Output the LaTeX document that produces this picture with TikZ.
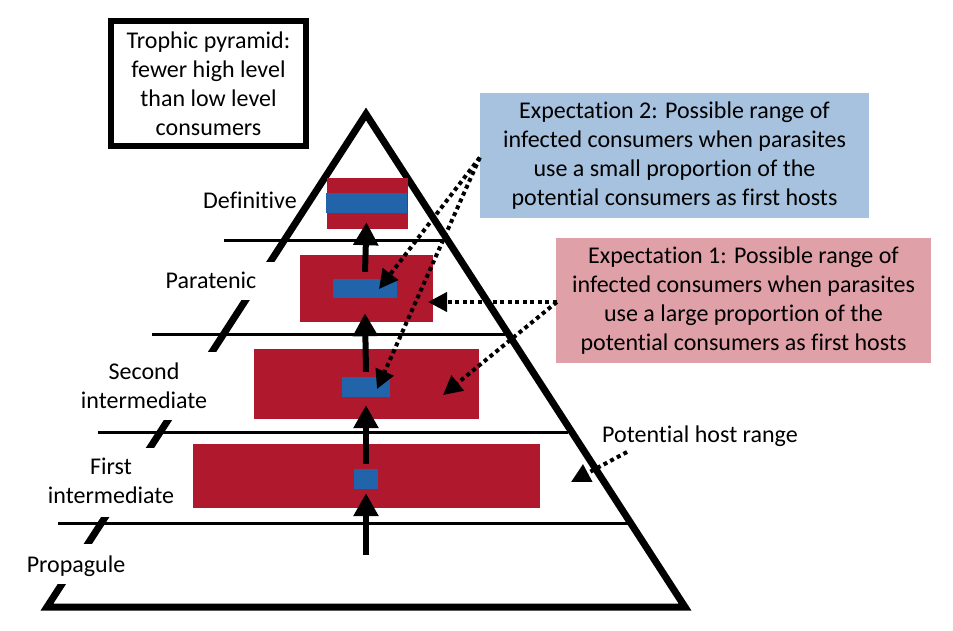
\documentclass[tikz,border=0pt]{standalone}
\usepackage{fontspec}
\setmainfont{Carlito}[Ligatures=NoCommon]
\usetikzlibrary{arrows.meta}
\definecolor{hostred}{RGB}{176,24,45}
\definecolor{infblue}{RGB}{34,100,170}
\definecolor{lightblue}{RGB}{166,194,222}
\definecolor{lightpink}{RGB}{223,160,168}
\begin{document}
\begin{tikzpicture}[x=1pt,y=-1pt,
  txt/.style={font=\fontsize{24}{29}\selectfont, align=center, inner sep=0pt, text=black},
  levelline/.style={line width=3pt},
  sideline/.style={line width=7pt, line join=miter},
  hostrect/.style={fill=hostred, draw=none, inner sep=0pt},
  infrect/.style={fill=infblue, draw=none, inner sep=0pt},
  uparrow/.style={line width=6pt, -{Triangle[length=23pt,width=24pt]}},
  dotarrow/.style={line width=4pt, dash pattern=on 4pt off 3.5pt, -{Triangle[length=19pt,width=19pt]}},
]
\useasboundingbox[fill=white] (0,0) rectangle (953,630);

% pyramid outline
\coordinate (bl) at (47,607);
\coordinate (apex) at (366,114);
\coordinate (br) at (685,607);
\draw[sideline] (bl) -- (apex) -- (br) -- cycle;
% gaps in left side behind the labels
\fill[white] (236,262) rectangle (282,300);
\fill[white] (156,352) rectangle (224,420);
\fill[white] (94,448) rectangle (161,517);
\fill[white] (50,544) rectangle (99,584);

% level lines
\coordinate (l1a) at (224,240); \coordinate (l1b) at (444,240);
\coordinate (l2a) at (152,334); \coordinate (l2b) at (505,334);
\coordinate (l3a) at (98,432);  \coordinate (l3b) at (568,432);
\coordinate (l4a) at (58,523);  \coordinate (l4b) at (628,523);
\draw[levelline] (l1a) -- (l1b);
\draw[levelline] (l2a) -- (l2b);
\draw[levelline] (l3a) -- (l3b);
\draw[levelline] (l4a) -- (l4b);

% host ranges
\node[hostrect, minimum width=81pt, minimum height=51pt] (defhost) at (367.5,203.5) {};
\node[hostrect, minimum width=133pt, minimum height=67pt] (parhost) at (366.5,288.5) {};
\node[hostrect, minimum width=225pt, minimum height=70pt] (sechost) at (366.5,384) {};
\node[hostrect, minimum width=347pt, minimum height=64pt] (firsthost) at (366.5,476) {};
% infected ranges
\node[infrect, minimum width=81pt, minimum height=20pt] (definf) at (366.5,203) {};
\node[infrect, minimum width=64pt, minimum height=19pt] (parinf) at (365,288.5) {};
\node[infrect, minimum width=48pt, minimum height=20pt] (secinf) at (366,387) {};
\node[infrect, minimum width=24pt, minimum height=20pt] (firstinf) at (366,479) {};

% level labels
\node[txt] (deflab) at (250,200) {Definitive};
\node[txt] (parlab) at (211,280) {Paratenic};
\node[txt] (seclab) at (144,386) {Second\\intermediate};
\node[txt] (firstlab) at (111,481) {First\\intermediate};
\node[txt] (proplab) at (76,566) {Propagule};

% trophic box
\node[txt, draw, line width=6pt, minimum width=195pt, minimum height=125pt] (trophic) at (208.5,83.5)
  {Trophic pyramid:\\fewer high level\\than low level\\consumers};

% expectation boxes
\node[txt, fill=lightblue, minimum width=389pt, minimum height=125pt] (exp2) at (674.5,155.5)
  {Expectation 2: Possible range of\\infected consumers when parasites\\use a small proportion of the\\potential consumers as first hosts};
\node[txt, fill=lightpink, minimum width=375pt, minimum height=125pt] (exp1) at (743.5,300.5)
  {Expectation 1: Possible range of\\infected consumers when parasites\\use a large proportion of the\\potential consumers as first hosts};

\node[txt] (hostlab) at (700,436) {Potential host range};

% life-cycle arrows
\coordinate (prop) at (366,555);
\draw[uparrow] (prop) -- ([yshift=-4pt]firstinf.south);
\draw[uparrow] ([yshift=5pt]firstinf.north) -- ([yshift=-8pt]secinf.south);
\draw[uparrow] ([yshift=5pt]secinf.north) -- ([yshift=-15pt]parinf.south);
\draw[uparrow] ([yshift=7pt]parinf.north) -- ([yshift=-9pt]definf.south);

% dotted pointer arrows
\coordinate (e2s) at ([yshift=-2pt]exp2.west);
\coordinate (e1s) at ([xshift=1pt,yshift=-1.5pt]exp1.west);
\coordinate (t2a) at (379,289);
\coordinate (t2b) at (377,389);
\coordinate (t1a) at (428,302);
\coordinate (t1b) at (443,395);
\coordinate (hs) at (627,452);
\coordinate (ht) at (571,482);
\draw[dotarrow] (e2s) -- (t2a);
\draw[dotarrow] (e2s) -- (t2b);
\draw[dotarrow] (e1s) -- (t1a);
\draw[dotarrow] (e1s) -- (t1b);
\draw[dotarrow] (hs) -- (ht);
\end{tikzpicture}
\end{document}
